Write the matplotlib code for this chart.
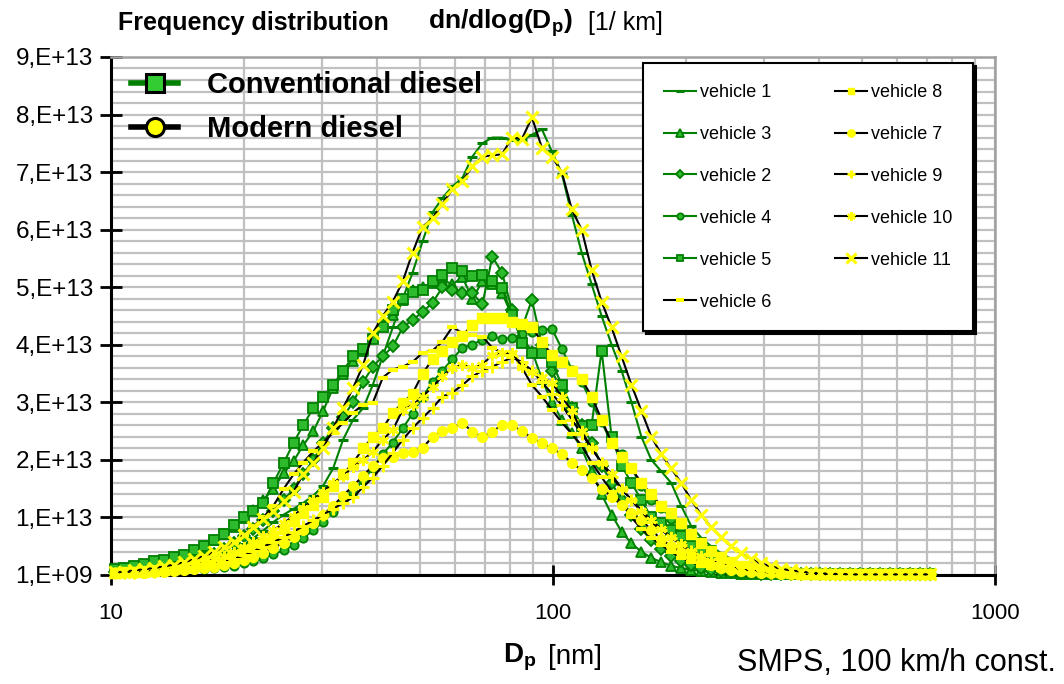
import matplotlib
matplotlib.use("Agg")
import matplotlib.pyplot as plt
from matplotlib.lines import Line2D
from matplotlib.ticker import FixedLocator, FixedFormatter, LogLocator, MultipleLocator, NullFormatter

plt.rcParams['font.family'] = ['Liberation Sans', 'DejaVu Sans']
plt.rcParams['mathtext.fontset'] = 'custom'
plt.rcParams['mathtext.rm'] = 'Liberation Sans'
plt.rcParams['mathtext.bf'] = 'Liberation Sans:bold'

# particle diameter channels [nm]
dp = [10.2, 10.7, 11.3, 11.9, 12.5, 13.2, 13.9, 14.6, 15.4, 16.2,
      17.1, 18.0, 19.0, 20.0, 21.0, 22.1, 23.3, 24.6, 25.9, 27.2,
      28.7, 30.2, 31.8, 33.5, 35.3, 37.2, 39.1, 41.2, 43.4, 45.7,
      48.1, 50.7, 53.4, 56.2, 59.2, 62.4, 65.7, 69.2, 72.9, 76.7,
      80.8, 85.1, 89.6, 94.4, 99.4, 104.7, 110.3, 116.1, 122.3, 128.8,
      135.7, 142.9, 150.5, 158.5, 166.9, 175.8, 185.1, 195.0, 205.4, 216.3,
      227.8, 239.9, 252.6, 266.1, 280.2, 295.1, 310.8, 327.3, 344.7, 363.1,
      382.4, 402.7, 424.1, 446.7, 470.4, 495.5, 521.8, 549.5, 578.8, 609.5,
      641.9, 676.1, 712.0]

# dn/dlog(Dp) in 1e13 / km
v1 = [0.04, 0.05, 0.06, 0.07, 0.09, 0.11, 0.13, 0.16, 0.20, 0.24,
      0.30, 0.36, 0.44, 0.53, 0.64, 0.77, 0.92, 1.05, 1.15, 1.25,
      1.38, 1.55, 1.85, 2.35, 2.70, 2.90, 3.30, 3.80, 4.30, 4.80,
      5.25, 5.80, 6.30, 6.55, 6.75, 6.90, 7.27, 7.50, 7.60, 7.60,
      7.55, 7.55, 7.65, 7.74, 7.36, 6.97, 6.26, 5.60, 5.05, 4.50,
      4.00, 3.55, 3.00, 2.40, 2.00, 1.80, 1.60, 1.20, 0.85, 0.65,
      0.50, 0.38, 0.28, 0.20, 0.15, 0.11, 0.08, 0.06, 0.04, 0.03,
      0.02, 0.02, 0.02, 0.01, 0.01, 0.01, 0.01, 0.01, 0.01, 0.01,
      0.01, 0.01, 0.01]
v3 = [0.08, 0.09, 0.11, 0.14, 0.17, 0.20, 0.26, 0.33, 0.40, 0.47,
      0.60, 0.72, 0.83, 0.99, 1.13, 1.30, 1.50, 1.77, 1.98, 2.25,
      2.50, 2.85, 3.25, 3.50, 3.72, 3.90, 4.14, 4.37, 4.52, 4.78,
      4.96, 5.00, 5.08, 5.13, 5.05, 5.17, 4.80, 5.10, 5.05, 4.90,
      4.50, 4.10, 3.90, 3.40, 3.00, 2.70, 2.47, 2.20, 1.80, 1.40,
      1.05, 0.75, 0.55, 0.40, 0.30, 0.22, 0.16, 0.12, 0.09, 0.07,
      0.05, 0.04, 0.03, 0.02, 0.02, 0.01, 0.01, 0.01, 0.01, 0.01,
      0.01, 0.01, 0.01, 0.01, 0.01, 0.01, 0.01, 0.01, 0.01, 0.01,
      0.01, 0.01, 0.01]
v2 = [0.06, 0.07, 0.08, 0.10, 0.12, 0.14, 0.17, 0.20, 0.25, 0.30,
      0.37, 0.45, 0.55, 0.67, 0.80, 0.95, 1.12, 1.30, 1.50, 1.75,
      2.00, 2.30, 2.55, 2.75, 3.00, 3.35, 3.62, 3.80, 3.97, 4.30,
      4.43, 4.57, 4.73, 5.00, 4.96, 4.90, 4.90, 4.70, 5.53, 5.25,
      4.60, 4.30, 4.78, 4.00, 3.55, 3.20, 2.90, 2.60, 2.30, 1.90,
      1.60, 1.30, 1.05, 0.80, 0.60, 0.45, 0.33, 0.24, 0.17, 0.12,
      0.09, 0.07, 0.05, 0.04, 0.03, 0.02, 0.02, 0.01, 0.01, 0.01,
      0.01, 0.01, 0.01, 0.01, 0.01, 0.01, 0.01, 0.01, 0.01, 0.01,
      0.01, 0.01, 0.01]
v4 = [0.04, 0.04, 0.05, 0.05, 0.06, 0.07, 0.08, 0.09, 0.10, 0.11,
      0.12, 0.14, 0.16, 0.20, 0.24, 0.29, 0.36, 0.43, 0.52, 0.64,
      0.78, 0.92, 1.10, 1.30, 1.45, 1.65, 1.85, 2.10, 2.30, 2.55,
      2.80, 3.10, 3.35, 3.55, 3.75, 3.95, 4.00, 4.09, 4.15, 4.10,
      4.12, 4.18, 4.23, 4.25, 4.28, 3.93, 3.57, 3.35, 3.00, 2.65,
      2.30, 2.10, 1.85, 1.55, 1.30, 1.17, 0.98, 0.82, 0.65, 0.50,
      0.38, 0.28, 0.20, 0.15, 0.11, 0.08, 0.06, 0.04, 0.03, 0.02,
      0.01, 0.01, 0.01, 0.01, 0.01, 0.01, 0.01, 0.01, 0.01, 0.01,
      0.01, 0.01, 0.01]
v5 = [0.10, 0.12, 0.15, 0.19, 0.24, 0.26, 0.31, 0.35, 0.43, 0.50,
      0.60, 0.72, 0.86, 1.00, 1.12, 1.25, 1.60, 1.95, 2.30, 2.60,
      2.90, 3.10, 3.30, 3.55, 3.80, 3.92, 4.10, 4.30, 4.60, 4.80,
      4.92, 4.95, 5.10, 5.22, 5.34, 5.28, 5.20, 5.22, 5.10, 4.99,
      4.52, 4.03, 3.85, 3.86, 3.70, 3.30, 2.90, 2.59, 2.61, 3.90,
      2.40, 1.90, 1.60, 1.30, 1.00, 0.90, 0.78, 0.68, 0.50, 0.38,
      0.28, 0.20, 0.15, 0.11, 0.08, 0.06, 0.04, 0.03, 0.02, 0.02,
      0.01, 0.01, 0.01, 0.01, 0.01, 0.01, 0.01, 0.01, 0.01, 0.01,
      0.01, 0.01, 0.01]
v6 = [0.05, 0.06, 0.07, 0.09, 0.11, 0.14, 0.17, 0.21, 0.26, 0.32,
      0.40, 0.48, 0.58, 0.70, 0.85, 1.00, 1.20, 1.50, 1.75, 1.95,
      2.15, 2.30, 2.47, 2.64, 2.82, 2.96, 2.99, 3.43, 3.57, 3.62,
      3.70, 3.86, 3.90, 4.05, 4.31, 4.20, 4.17, 4.14, 3.95, 3.86,
      3.86, 3.60, 3.30, 3.10, 2.87, 2.65, 2.45, 2.25, 1.95, 1.70,
      1.45, 1.25, 1.00, 0.80, 0.65, 0.52, 0.40, 0.30, 0.22, 0.16,
      0.12, 0.09, 0.07, 0.05, 0.04, 0.03, 0.02, 0.02, 0.01, 0.01,
      0.01, 0.01, 0.01, 0.01, 0.01, 0.01, 0.01, 0.01, 0.01, 0.01,
      0.01, 0.01, 0.01]
v8 = [0.04, 0.05, 0.05, 0.06, 0.07, 0.08, 0.10, 0.12, 0.15, 0.18,
      0.22, 0.27, 0.33, 0.40, 0.48, 0.57, 0.68, 0.80, 0.93, 1.08,
      1.22, 1.36, 1.55, 1.75, 1.95, 2.20, 2.40, 2.55, 2.82, 2.99,
      3.15, 3.50, 3.75, 3.90, 4.05, 4.16, 4.35, 4.46, 4.47, 4.47,
      4.40, 4.36, 4.30, 4.05, 3.83, 3.70, 3.55, 3.40, 3.10, 2.70,
      2.30, 2.05, 1.85, 1.60, 1.40, 1.20, 1.08, 0.90, 0.72, 0.55,
      0.42, 0.31, 0.22, 0.16, 0.12, 0.09, 0.07, 0.05, 0.03, 0.02,
      0.01, 0.01, 0.01, 0.01, 0.01, 0.01, 0.01, 0.01, 0.01, 0.01,
      0.01, 0.01, 0.01]
v7 = [0.03, 0.03, 0.04, 0.04, 0.05, 0.06, 0.07, 0.08, 0.10, 0.12,
      0.14, 0.17, 0.21, 0.26, 0.32, 0.39, 0.47, 0.56, 0.66, 0.78,
      0.90, 1.05, 1.20, 1.38, 1.55, 1.72, 1.90, 2.03, 2.05, 2.12,
      2.14, 2.21, 2.40, 2.50, 2.56, 2.64, 2.49, 2.40, 2.49, 2.61,
      2.60, 2.50, 2.38, 2.30, 2.20, 2.10, 1.95, 1.82, 1.68, 1.50,
      1.36, 1.22, 1.08, 0.96, 0.78, 0.62, 0.50, 0.40, 0.31, 0.23,
      0.17, 0.12, 0.09, 0.07, 0.05, 0.04, 0.03, 0.02, 0.02, 0.01,
      0.01, 0.01, 0.01, 0.01, 0.01, 0.01, 0.01, 0.01, 0.01, 0.01,
      0.01, 0.01, 0.01]
v9 = [0.03, 0.04, 0.04, 0.05, 0.06, 0.07, 0.09, 0.11, 0.13, 0.16,
      0.19, 0.23, 0.28, 0.34, 0.41, 0.49, 0.57, 0.66, 0.75, 0.85,
      0.95, 1.05, 1.15, 1.25, 1.35, 1.53, 1.69, 1.90, 2.12, 2.35,
      2.55, 2.73, 2.90, 3.10, 3.17, 3.30, 3.45, 3.55, 3.62, 3.70,
      3.78, 3.70, 3.55, 3.35, 3.15, 2.95, 2.70, 2.45, 2.20, 1.95,
      1.70, 1.50, 1.30, 1.10, 0.92, 0.78, 0.65, 0.52, 0.41, 0.32,
      0.25, 0.19, 0.14, 0.10, 0.08, 0.06, 0.04, 0.03, 0.02, 0.02,
      0.01, 0.01, 0.01, 0.01, 0.01, 0.01, 0.01, 0.01, 0.01, 0.01,
      0.01, 0.01, 0.01]
v10 = [0.04, 0.05, 0.06, 0.07, 0.08, 0.10, 0.12, 0.15, 0.18, 0.22,
       0.27, 0.33, 0.40, 0.48, 0.57, 0.67, 0.78, 0.90, 1.03, 1.17,
       1.30, 1.45, 1.60, 1.72, 1.88, 2.00, 2.14, 2.35, 2.52, 2.87,
       2.95, 3.10, 3.27, 3.45, 3.60, 3.65, 3.60, 3.65, 3.83, 3.86,
       3.86, 3.62, 3.53, 3.44, 3.34, 3.10, 2.85, 2.50, 2.20, 1.95,
       1.75, 1.50, 1.30, 1.12, 0.95, 0.80, 0.66, 0.53, 0.42, 0.33,
       0.25, 0.19, 0.14, 0.10, 0.08, 0.06, 0.04, 0.03, 0.02, 0.02,
       0.01, 0.01, 0.01, 0.01, 0.01, 0.01, 0.01, 0.01, 0.01, 0.01,
       0.01, 0.01, 0.01]
v11 = [0.05, 0.06, 0.08, 0.10, 0.12, 0.15, 0.18, 0.22, 0.27, 0.33,
       0.40, 0.48, 0.58, 0.70, 0.84, 0.98, 1.12, 1.28, 1.45, 1.75,
       1.95, 2.20, 2.55, 2.90, 3.25, 3.65, 4.20, 4.50, 4.75, 5.10,
       5.60, 6.05, 6.20, 6.45, 6.70, 6.85, 7.10, 7.27, 7.29, 7.31,
       7.60, 7.58, 7.95, 7.42, 7.27, 7.00, 6.35, 6.00, 5.30, 4.75,
       4.30, 3.80, 3.30, 2.85, 2.40, 2.10, 1.85, 1.60, 1.30, 1.05,
       0.83, 0.66, 0.50, 0.38, 0.28, 0.20, 0.15, 0.11, 0.08, 0.06,
       0.04, 0.03, 0.02, 0.02, 0.01, 0.01, 0.01, 0.01, 0.01, 0.01,
       0.01, 0.01, 0.01]

ytick_vals = [1e9, 1e13, 2e13, 3e13, 4e13, 5e13, 6e13, 7e13, 8e13, 9e13]
ytick_labels = ["1,E+09", "1,E+13", "2,E+13", "3,E+13", "4,E+13",
                "5,E+13", "6,E+13", "7,E+13", "8,E+13", "9,E+13"]

green = '#008000'
gfill = '#2dbb2d'
yel = '#ffff00'

# label, values, line colour, marker, size, face, edge, edge width
series = [
    ("vehicle 1", v1, green, '_', 7, green, green, 2.2),
    ("vehicle 3", v3, green, '^', 7, gfill, green, 1.3),
    ("vehicle 2", v2, green, 'D', 6, gfill, green, 1.3),
    ("vehicle 4", v4, green, 'o', 6, gfill, green, 1.3),
    ("vehicle 5", v5, green, 's', 6.5, gfill, green, 1.3),
    ("vehicle 6", v6, 'black', '_', 7, yel, yel, 3.0),
    ("vehicle 8", v8, 'black', 's', 6.5, yel, yel, 1.0),
    ("vehicle 7", v7, 'black', 'o', 7, yel, yel, 1.0),
    ("vehicle 9", v9, 'black', '+', 8, yel, yel, 2.2),
    ("vehicle 10", v10, 'black', (6, 2, 0), 8, yel, yel, 1.8),
    ("vehicle 11", v11, 'black', 'x', 9, yel, yel, 2.2),
]

fig = plt.figure(figsize=(10.64, 6.84), dpi=100)
ax = fig.add_axes([0.1043, 0.1594, 0.8309, 0.7573])

handles = []
for lab, vals, lc, mk, ms, mf, me, mw in series:
    y = [v * 1e13 for v in vals]
    h, = ax.plot(dp, y, color=lc, lw=1.5, marker=mk, ms=ms, mfc=mf, mec=me,
                 mew=mw, label=lab, clip_on=False, zorder=3)
    handles.append(h)

ax.set_xscale('log')
ax.set_xlim(10, 1000)
ax.set_ylim(1e9, 9e13)

ax.xaxis.set_major_locator(FixedLocator([10, 100, 1000]))
ax.xaxis.set_major_formatter(FixedFormatter(["10", "100", "1000"]))
ax.xaxis.set_minor_locator(LogLocator(base=10, subs=[2, 3, 4, 5, 6, 7, 8, 9]))
ax.xaxis.set_minor_formatter(NullFormatter())
ax.yaxis.set_major_locator(FixedLocator(ytick_vals))
ax.yaxis.set_major_formatter(FixedFormatter(ytick_labels))
ax.yaxis.set_minor_locator(MultipleLocator(2e12))

ax.grid(True, which='both', color='#c0c0c0', lw=1.6, zorder=0)
ax.set_axisbelow(True)
ax.tick_params(axis='both', which='minor', length=0)
ax.tick_params(axis='y', which='major', direction='inout', length=16, width=2,
               labelsize=17.5, pad=5)
ax.tick_params(axis='x', which='major', direction='inout', length=14, width=2,
               labelsize=16, pad=13)

for s in ['left', 'bottom']:
    ax.spines[s].set_color('black')
    ax.spines[s].set_linewidth(2.2)
for s in ['top', 'right']:
    ax.spines[s].set_color('#a0a0a0')
    ax.spines[s].set_linewidth(1.8)

# vehicle legend (two columns)
leg2 = ax.legend(handles=handles, ncol=2, loc='upper left',
                 bbox_to_anchor=(0.602, 0.988), borderaxespad=0.0,
                 fontsize=13, labelspacing=1.38, handlelength=1.8,
                 handletextpad=0.2, borderpad=1.15, columnspacing=3.5,
                 markerscale=0.75, frameon=True, fancybox=False,
                 edgecolor='black', framealpha=1,
                 shadow={'color': 'black', 'alpha': 1})
leg2.get_frame().set_linewidth(1.5)
ax.add_artist(leg2)

# group legend
gh = [Line2D([], [], color=green, lw=4, marker='s', ms=13, mfc='#33cc33',
             mec='black', mew=2.2),
      Line2D([], [], color='black', lw=4, marker='o', ms=13, mfc=yel,
             mec='black', mew=2.2)]
leg1 = ax.legend(gh, ["Conventional diesel", "Modern diesel"], loc='upper left',
                 bbox_to_anchor=(0.0, 1.012), frameon=False,
                 prop={'size': 21, 'weight': 'bold'}, handlelength=1.6,
                 handletextpad=1.0, labelspacing=0.55, borderaxespad=0.4,
                 borderpad=0.3)

fig.text(118 / 1064, 1 - 23 / 684, "Frequency distribution", fontsize=18,
         fontweight='bold', va='center')
fig.text(428 / 1064, 1 - 23 / 684, r"$\mathbf{dn/dlog(D_p)}$", fontsize=19,
         va='center')
fig.text(588 / 1064, 1 - 23 / 684, "[1/ km]", fontsize=18, va='center')

fig.text(503 / 1064, 1 - 657 / 684, r"$\mathbf{D_p}$", fontsize=20, va='center')
fig.text(548 / 1064, 1 - 657 / 684, "[nm]", fontsize=20, va='center')
fig.text(1056 / 1064, 1 - 663 / 684, "SMPS, 100 km/h const.", fontsize=22,
         va='center', ha='right')

fig.savefig("out.png", dpi=100)
